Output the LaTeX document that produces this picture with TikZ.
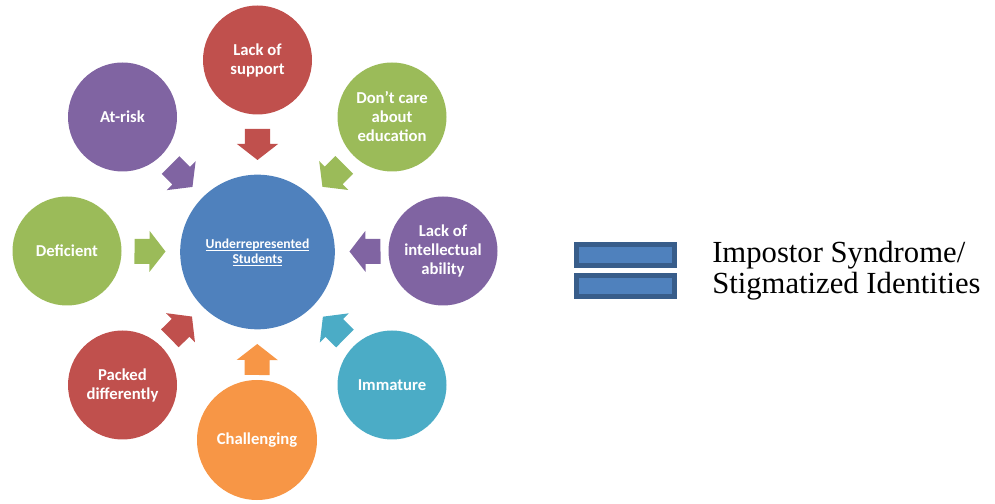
\documentclass[tikz,border=0pt]{standalone}
\usepackage{fontspec}
\setmainfont{Carlito}
\newfontfamily\lserif{Liberation Serif}
\usetikzlibrary{calc}
\definecolor{cred}{HTML}{C0504D}
\definecolor{cpurple}{HTML}{8064A2}
\definecolor{cgreen}{HTML}{9BBB59}
\definecolor{corange}{HTML}{F79646}
\definecolor{cteal}{HTML}{4BACC6}
\definecolor{cblue}{HTML}{4F81BD}
\definecolor{cblueedge}{HTML}{385D8A}
\newcommand\ulword[1]{\setbox0\hbox{#1}\rlap{\vrule height -1.1pt depth 1.8pt width \wd0}\box0}
\tikzset{
  bubble/.style={circle, fill=#1, text=white, align=center, inner sep=0pt,
    minimum size=81.75pt, font=\bfseries\fontsize{12.5}{14.25}\selectfont},
  hub/.style={circle, fill=cblue, text=white, align=center, inner sep=0pt,
    minimum size=116pt, font=\bfseries\fontsize{10.2}{11.25}\selectfont},
  bar/.style={rectangle, fill=cblue, draw=cblueedge, line width=3.75pt,
    minimum width=73.5pt, minimum height=15.75pt, inner sep=0pt},
  label/.style={font=\lserif\fontsize{23}{23.25}\selectfont, align=left,
    anchor=base west, inner sep=0pt}
}
\newcommand\blockarrow[3]{%
  \fill[#3] ($(#2)!69pt!(#1)$)
   -- ($(#2)!81pt!(#1)!15.4pt!90:(#2)$)
   -- ($(#2)!81pt!(#1)!9.4pt!90:(#2)$)
   -- ($(#2)!92.25pt!(#1)!9.4pt!90:(#2)$)
   -- ($(#2)!92.25pt!(#1)!9.4pt!-90:(#2)$)
   -- ($(#2)!81pt!(#1)!9.4pt!-90:(#2)$)
   -- ($(#2)!81pt!(#1)!15.4pt!-90:(#2)$) -- cycle;}
\begin{document}
\begin{tikzpicture}[x=0.75pt,y=0.75pt]
\useasboundingbox (0,0) rectangle (995,503);
\node[hub] (c) at (257.5,251) {\ulword{Underrepresented}\\\ulword{Students}};
\node[bubble=cred] (ls) at (257.5,443) {Lack of\\support};
\node[bubble=cgreen] (dc) at (392,386) {Don’t care\\about\\education};
\node[bubble=cpurple] (li) at (443,252) {Lack of\\intellectual\\ability};
\node[bubble=cteal] (im) at (392,118) {Immature};
\node[bubble=corange, minimum size=90pt] (ch) at (257,63) {Challenging};
\node[bubble=cred] (pd) at (122.5,118) {Packed\\differently};
\node[bubble=cgreen] (de) at (67,252) {Deficient};
\node[bubble=cpurple] (ar) at (122.5,386) {At-risk};
\blockarrow{ls}{c}{cred}
\blockarrow{dc}{c}{cgreen}
\blockarrow{li}{c}{cpurple}
\blockarrow{im}{c}{cteal}
\blockarrow{ch}{c}{corange}
\blockarrow{pd}{c}{cred}
\blockarrow{de}{c}{cgreen}
\blockarrow{ar}{c}{cpurple}
\node[bar] (eq1) at (625.5,248) {};
\node[bar] (eq2) at (625.5,216.5) {};
\node[label] (t) at (712,209) {Impostor Syndrome/\\Stigmatized Identities};
\end{tikzpicture}
\end{document}
